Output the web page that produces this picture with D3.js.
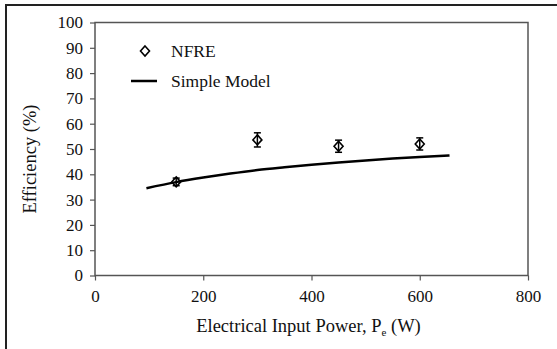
<!DOCTYPE html>
<html>
<head>
<meta charset="utf-8">
<script src="https://cdn.jsdelivr.net/npm/d3@7"></script>
<style>
  body { margin: 0; background: #fff; }
</style>
</head>
<body>
<div id="chart"></div>
<script>
const W = 557, H = 349;
const MARGIN = { LEFT: 95, RIGHT: 29, TOP: 22.5, BOTTOM: 73.5 };
const PW = W - MARGIN.LEFT - MARGIN.RIGHT;
const PH = H - MARGIN.TOP - MARGIN.BOTTOM;
const FONT = "'Liberation Serif', 'Times New Roman', Times, serif";

// measured points
const nfrePower = [150, 300, 450, 600];
const nfreEff = [37, 53.6, 51.1, 52];
const nfreErr = [1.5, 2.8, 2.4, 2.4];

// simple model curve
const modelPower = [95, 150, 200, 250, 300, 350, 400, 450, 500, 550, 600, 655];
const modelEff = [34.5, 36.9, 38.7, 40.3, 41.7, 42.8, 43.8, 44.7, 45.5, 46.2, 46.8, 47.4];

const xTicks = [0, 200, 400, 600, 800];
const yTicks = [0, 10, 20, 30, 40, 50, 60, 70, 80, 90, 100];

const svg = d3.select("#chart").append("svg")
  .attr("width", W).attr("height", H);

// outer frame (left + top)
svg.append("path")
  .attr("d", `M6,${H} L6,5 L${W},5`)
  .attr("fill", "none").attr("stroke", "#222").attr("stroke-width", 2);

const g = svg.append("g")
  .attr("transform", `translate(${MARGIN.LEFT}, ${MARGIN.TOP})`);

const x = d3.scaleLinear().domain([0, 800]).range([0, PW]);
const y = d3.scaleLinear().domain([0, 100]).range([PH, 0]);

// plot border
g.append("rect")
  .attr("width", PW).attr("height", PH)
  .attr("fill", "none").attr("stroke", "#555").attr("stroke-width", 1.5);

const xAxis = g.append("g")
  .attr("transform", `translate(0, ${PH})`)
  .call(d3.axisBottom(x).tickValues(xTicks).tickSize(5).tickPadding(9).tickSizeOuter(0));
const yAxis = g.append("g")
  .call(d3.axisLeft(y).tickValues(yTicks).tickSize(5).tickPadding(7).tickSizeOuter(0));

[xAxis, yAxis].forEach((a) => {
  a.attr("font-family", null).attr("font-size", null);
  a.select(".domain").remove();
  a.selectAll("line").attr("stroke", "#555").attr("stroke-width", 1.2);
  a.selectAll("text")
    .style("font-family", FONT)
    .style("font-size", "17px").attr("fill", "#111");
});

// axis titles
const xTitle = svg.append("text")
  .attr("x", MARGIN.LEFT + PW / 2 - 3).attr("y", 332)
  .attr("text-anchor", "middle")
  .style("font-family", FONT).style("font-size", "18.5px").attr("fill", "#111");
xTitle.append("tspan").text("Electrical Input Power, P");
xTitle.append("tspan").style("font-size", "11px").attr("dy", 4).text("e");
xTitle.append("tspan").attr("dy", -4).text(" (W)");

svg.append("text")
  .attr("transform", `translate(36, ${159}) rotate(-90)`)
  .attr("text-anchor", "middle")
  .style("font-family", FONT).style("font-size", "18.5px").attr("fill", "#111")
  .text("Efficiency (%)");

// model line
const line = d3.line()
  .x((d, i) => x(modelPower[i]))
  .y((d) => y(d))
  .curve(d3.curveMonotoneX);

g.append("path")
  .attr("d", line(modelEff))
  .attr("fill", "none").attr("stroke", "#000").attr("stroke-width", 2.5);

// error bars + diamonds
const pts = g.selectAll(".pt").data(nfreEff).enter().append("g")
  .attr("class", "pt")
  .attr("transform", (d, i) => `translate(${x(nfrePower[i])}, ${y(d)})`);

const errTop = (d, i) => y(d + nfreErr[i]) - y(d);
const errBot = (d, i) => y(d - nfreErr[i]) - y(d);
pts.append("line")
  .attr("y1", errTop).attr("y2", errBot)
  .attr("stroke", "#000").attr("stroke-width", 1.5);
pts.append("line")
  .attr("x1", -3.5).attr("x2", 3.5).attr("y1", errTop).attr("y2", errTop)
  .attr("stroke", "#000").attr("stroke-width", 1.5);
pts.append("line")
  .attr("x1", -3.5).attr("x2", 3.5).attr("y1", errBot).attr("y2", errBot)
  .attr("stroke", "#000").attr("stroke-width", 1.5);
pts.append("path")
  .attr("d", "M0,-5 L4.5,0 L0,5 L-4.5,0 Z")
  .attr("fill", "none").attr("stroke", "#000").attr("stroke-width", 1.6);

// legend
svg.append("path")
  .attr("d", "M145,46 L149.5,51 L145,56 L140.5,51 Z")
  .attr("fill", "none").attr("stroke", "#000").attr("stroke-width", 1.6);
svg.append("text").attr("x", 171).attr("y", 57)
  .style("font-family", FONT).style("font-size", "17.5px").attr("fill", "#111").text("NFRE");
svg.append("line")
  .attr("x1", 131).attr("x2", 157).attr("y1", 81).attr("y2", 81)
  .attr("stroke", "#000").attr("stroke-width", 2.5);
svg.append("text").attr("x", 171).attr("y", 87)
  .style("font-family", FONT).style("font-size", "17.5px").attr("fill", "#111").text("Simple Model");
</script>
</body>
</html>
